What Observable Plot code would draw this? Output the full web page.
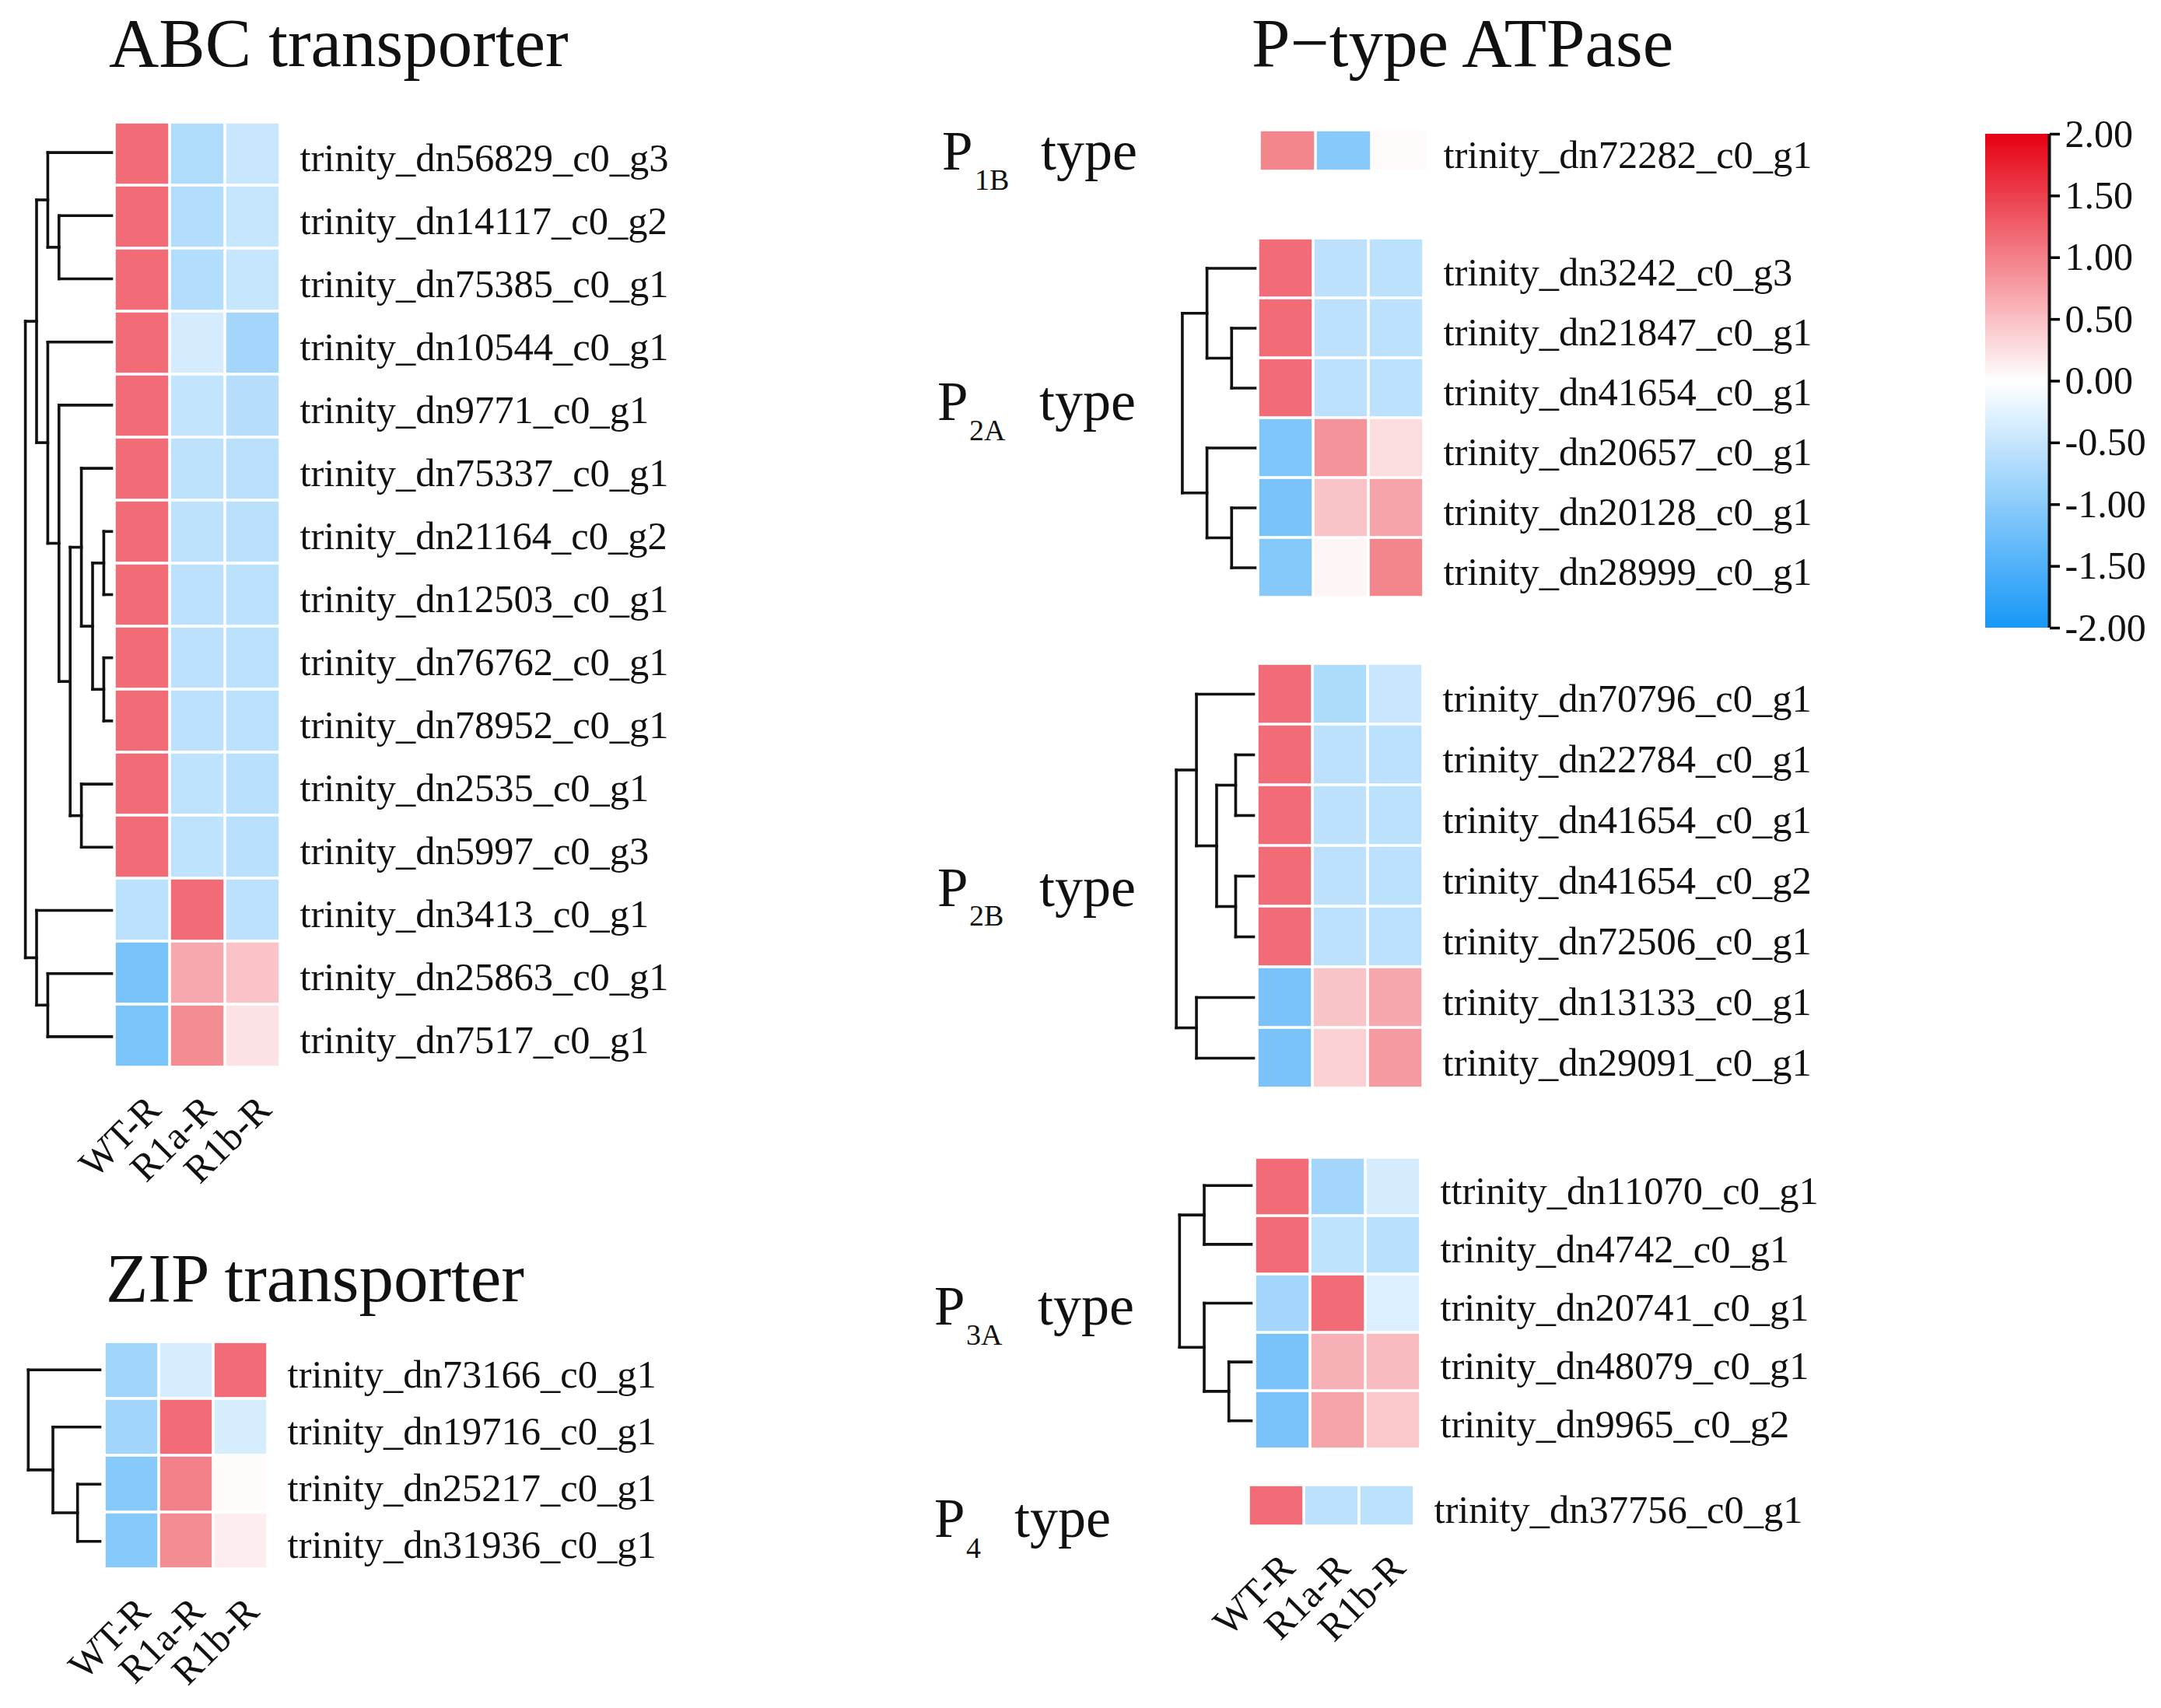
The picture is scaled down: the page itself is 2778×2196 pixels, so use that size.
<!DOCTYPE html>
<html><head><meta charset="utf-8">
<script src="https://cdn.jsdelivr.net/npm/d3@7"></script>
<script src="https://cdn.jsdelivr.net/npm/@observablehq/plot@0.6"></script>
<style>
html,body{margin:0;padding:0;background:#fff;}
#root{position:relative;width:2778px;height:2196px;overflow:hidden;background:#fff;}
#root svg{position:absolute;left:0;top:0;}
</style></head><body><div id="root"></div>
<script>
const W = 2778, H = 2196;
const FONT = '"Liberation Serif","Times New Roman",serif';

// ---------- data ----------
const conditions = ["WT-R", "R1a-R", "R1b-R"];

const abcGenes = ["trinity_dn56829_c0_g3","trinity_dn14117_c0_g2","trinity_dn75385_c0_g1","trinity_dn10544_c0_g1","trinity_dn9771_c0_g1","trinity_dn75337_c0_g1","trinity_dn21164_c0_g2","trinity_dn12503_c0_g1","trinity_dn76762_c0_g1","trinity_dn78952_c0_g1","trinity_dn2535_c0_g1","trinity_dn5997_c0_g3","trinity_dn3413_c0_g1","trinity_dn25863_c0_g1","trinity_dn7517_c0_g1"];
const abcValues = [
  [1.15,-0.68,-0.47],[1.15,-0.66,-0.49],[1.15,-0.66,-0.49],[1.15,-0.37,-0.78],[1.15,-0.52,-0.63],
  [1.15,-0.56,-0.59],[1.15,-0.56,-0.59],[1.15,-0.57,-0.58],[1.15,-0.57,-0.58],[1.15,-0.57,-0.58],
  [1.15,-0.55,-0.60],[1.15,-0.55,-0.60],[-0.58,1.15,-0.57],[-1.15,0.68,0.47],[-1.13,0.90,0.23]
];
const abcTree = [7.7, [6.7, [5.7, 0, [4.7, 1, 2]], [5.7, 3, [4.7, 4, [3.7, [2.7, 5, [1.7, [0.7, 6, 7], [0.7, 8, 9]]], [2.7, 10, 11]]]]], [6.7, 12, [5.7, 13, 14]]];

const zipGenes = ["trinity_dn73166_c0_g1","trinity_dn19716_c0_g1","trinity_dn25217_c0_g1","trinity_dn31936_c0_g1"];
const zipValues = [[-0.80,-0.35,1.15],[-0.80,1.15,-0.35],[-1.03,0.99,0.03],[-1.04,0.90,0.14]];
const zipTree = [6.4, 0, [4.2, 1, [2.0, 2, 3]]];

const p1bGenes = ["trinity_dn72282_c0_g1"];
const p1bValues = [[0.96,-1.03,0.03]];

const p2aGenes = ["trinity_dn3242_c0_g3","trinity_dn21847_c0_g1","trinity_dn41654_c0_g1","trinity_dn20657_c0_g1","trinity_dn20128_c0_g1","trinity_dn28999_c0_g1"];
const p2aValues = [[1.15,-0.57,-0.58],[1.15,-0.57,-0.58],[1.15,-0.57,-0.58],[-1.10,0.85,0.27],[-1.15,0.46,0.72],[-1.05,0.08,0.96]];
const p2aTree = [6.5, [4.3, 0, [2.1, 1, 2]], [4.3, 3, [2.1, 4, 5]]];

const p2bGenes = ["trinity_dn70796_c0_g1","trinity_dn22784_c0_g1","trinity_dn41654_c0_g1","trinity_dn41654_c0_g2","trinity_dn72506_c0_g1","trinity_dn13133_c0_g1","trinity_dn29091_c0_g1"];
const p2bValues = [[1.15,-0.70,-0.47],[1.15,-0.57,-0.58],[1.15,-0.57,-0.58],[1.15,-0.57,-0.58],[1.15,-0.57,-0.58],[-1.15,0.46,0.69],[-1.15,0.36,0.79]];
const p2bTree = [6.9, [5.1, 0, [3.3, [1.6, 1, 2], [1.6, 3, 4]]], [5.1, 5, 6]];

const p3aGenes = ["ttrinity_dn11070_c0_g1","trinity_dn4742_c0_g1","trinity_dn20741_c0_g1","trinity_dn48079_c0_g1","trinity_dn9965_c0_g2"];
const p3aValues = [[1.15,-0.78,-0.37],[1.15,-0.55,-0.60],[-0.78,1.15,-0.30],[-1.15,0.62,0.53],[-1.15,0.72,0.44]];
const p3aTree = [6.4, [4.2, 0, 1], [4.2, 2, [2.0, 3, 4]]];

const p4Genes = ["trinity_dn37756_c0_g1"];
const p4Values = [[1.15,-0.57,-0.58]];

const legendTicks = [2, 1.5, 1, 0.5, 0, -0.5, -1, -1.5, -2];

const titles = ["ABC transporter", "ZIP transporter", "P\u2212type ATPase"];
const typeSubs = ["1B", "2A", "2B", "3A", "4"];

// ---------- scales / helpers ----------
const color = {type: "linear", domain: [-2, 0, 2], range: ["#1697f6", "#ffffff", "#e60012"], interpolate: d3.interpolateRgb};
const root = document.getElementById("root");

function heatmap({genes, values, left, top, cw, ch, labelDx = 24, colLabels = false}) {
  const n = genes.length;
  const cells = [];
  genes.forEach((g, i) => conditions.forEach((c, j) => cells.push({gene: g, cond: c, v: values[i][j]})));
  const right = left + 3 * cw, bottom = top + n * ch;
  return Plot.plot({
    width: W, height: H,
    marginLeft: left, marginRight: W - right, marginTop: top, marginBottom: H - bottom,
    x: {type: "band", domain: conditions, padding: 0, axis: null},
    y: {type: "band", domain: genes, padding: 0, axis: null},
    color,
    style: {fontFamily: FONT, background: "transparent", overflow: "visible"},
    marks: [
      Plot.cell(cells, {x: "cond", y: "gene", fill: "v", inset: 1.8}),
      Plot.text(genes, {y: d => d, text: d => d, frameAnchor: "right", textAnchor: "start", dx: labelDx, dy: 6, fontSize: 50.5, fill: "#111"}),
      colLabels ? Plot.text(conditions, {x: d => d, text: d => d, frameAnchor: "bottom", textAnchor: "end", lineAnchor: "bottom", rotate: -45, dx: 26, dy: 56, fontSize: 50, fill: "#111"}) : null
    ]
  });
}

function dendro({tree, n, top, ch, leafX, unit = 14.4}) {
  const segs = [];
  function walk(node) {
    if (typeof node === "number") return {y: node + 0.5, h: 0};
    const [h, a, b] = node;
    const A = walk(a), B = walk(b);
    segs.push({x1: h, y1: A.y, x2: h, y2: B.y});
    segs.push({x1: h, y1: A.y, x2: A.h, y2: A.y});
    segs.push({x1: h, y1: B.y, x2: B.h, y2: B.y});
    return {y: (A.y + B.y) / 2, h};
  }
  walk(tree);
  const maxH = tree[0];
  const x0 = leafX - maxH * unit;
  return Plot.plot({
    width: W, height: H,
    marginLeft: x0, marginRight: W - leafX, marginTop: top, marginBottom: H - (top + n * ch),
    x: {domain: [maxH, 0], axis: null},
    y: {domain: [0, n], reverse: true, axis: null},
    style: {background: "transparent", overflow: "visible"},
    marks: [Plot.link(segs, {x1: "x1", y1: "y1", x2: "x2", y2: "y2", stroke: "#111", strokeWidth: 3.6, strokeLinecap: "square"})]
  });
}

// ---------- panels ----------
const plots = [
  heatmap({genes: abcGenes, values: abcValues, left: 147, top: 155, cw: 71, ch: 81.2, labelDx: 25, colLabels: true}),
  dendro({tree: abcTree, n: abcGenes.length, top: 155, ch: 81.2, leafX: 143}),
  heatmap({genes: zipGenes, values: zipValues, left: 133, top: 1724, cw: 70.7, ch: 73.5, colLabels: true}),
  dendro({tree: zipTree, n: zipGenes.length, top: 1724, ch: 73.5, leafX: 128}),
  heatmap({genes: p1bGenes, values: p1bValues, left: 1619, top: 167, cw: 72, ch: 53, labelDx: 20}),
  heatmap({genes: p2aGenes, values: p2aValues, left: 1617, top: 306, cw: 71.3, ch: 77}),
  dendro({tree: p2aTree, n: p2aGenes.length, top: 306, ch: 77, leafX: 1613}),
  heatmap({genes: p2bGenes, values: p2bValues, left: 1615, top: 853, cw: 71.7, ch: 78}),
  dendro({tree: p2bTree, n: p2bGenes.length, top: 853, ch: 78, leafX: 1611}),
  heatmap({genes: p3aGenes, values: p3aValues, left: 1613, top: 1486, cw: 71.3, ch: 75.6}),
  dendro({tree: p3aTree, n: p3aGenes.length, top: 1486, ch: 75.6, leafX: 1608}),
  heatmap({genes: p4Genes, values: p4Values, left: 1605, top: 1909, cw: 71.3, ch: 53, colLabels: true})
];

// legend
const stripes = d3.range(-2, 2, 0.02);
plots.push(Plot.plot({
  width: W, height: H,
  marginLeft: 2552, marginRight: W - 2634, marginTop: 172, marginBottom: H - 807,
  x: {domain: [0, 1], axis: null},
  y: {domain: [-2, 2], axis: null},
  color,
  style: {background: "transparent", fontFamily: FONT, fontSize: "50px", overflow: "visible"},
  marks: [
    Plot.rect(stripes, {x1: () => 0, x2: () => 1, y1: d => d, y2: d => Math.min(2, d + 0.025), fill: d => d + 0.01, shapeRendering: "crispEdges"}),
    Plot.ruleX([1], {stroke: "#111", strokeWidth: 4}),
    Plot.axisY({anchor: "right", ticks: legendTicks, tickFormat: d => d.toFixed(2), tickSize: 13, tickPadding: 7, fontSize: 50, strokeWidth: 3.5, fill: "#111"})
  ]
}));

plots.forEach(p => root.appendChild(p));

// ---------- titles & type labels ----------
const svg = d3.select(root).append("svg").attr("width", W).attr("height", H).style("font-family", FONT);
const titlePos = [[140, 85], [136, 1673], [1609, 85]];
titles.forEach((t, i) => svg.append("text").attr("x", titlePos[i][0]).attr("y", titlePos[i][1]).attr("font-size", 89).attr("fill", "#111").text(t));

const typePos = [
  {px: 1211, py: 218, sx: 1253, sy: 244, tx: 1338},
  {px: 1205, py: 540, sx: 1246, sy: 566, tx: 1336},
  {px: 1205, py: 1165, sx: 1246, sy: 1190, tx: 1336},
  {px: 1201, py: 1703, sx: 1242, sy: 1729, tx: 1334},
  {px: 1201, py: 1976, sx: 1242, sy: 2003, tx: 1304}
];
typeSubs.forEach((s, i) => {
  const p = typePos[i];
  svg.append("text").attr("x", p.px).attr("y", p.py).attr("font-size", 71).attr("fill", "#111").text("P");
  svg.append("text").attr("x", p.sx).attr("y", p.sy).attr("font-size", 38).attr("fill", "#111").text(s);
  svg.append("text").attr("x", p.tx).attr("y", p.py).attr("font-size", 72).attr("fill", "#111").text("type");
});
</script></body></html>
